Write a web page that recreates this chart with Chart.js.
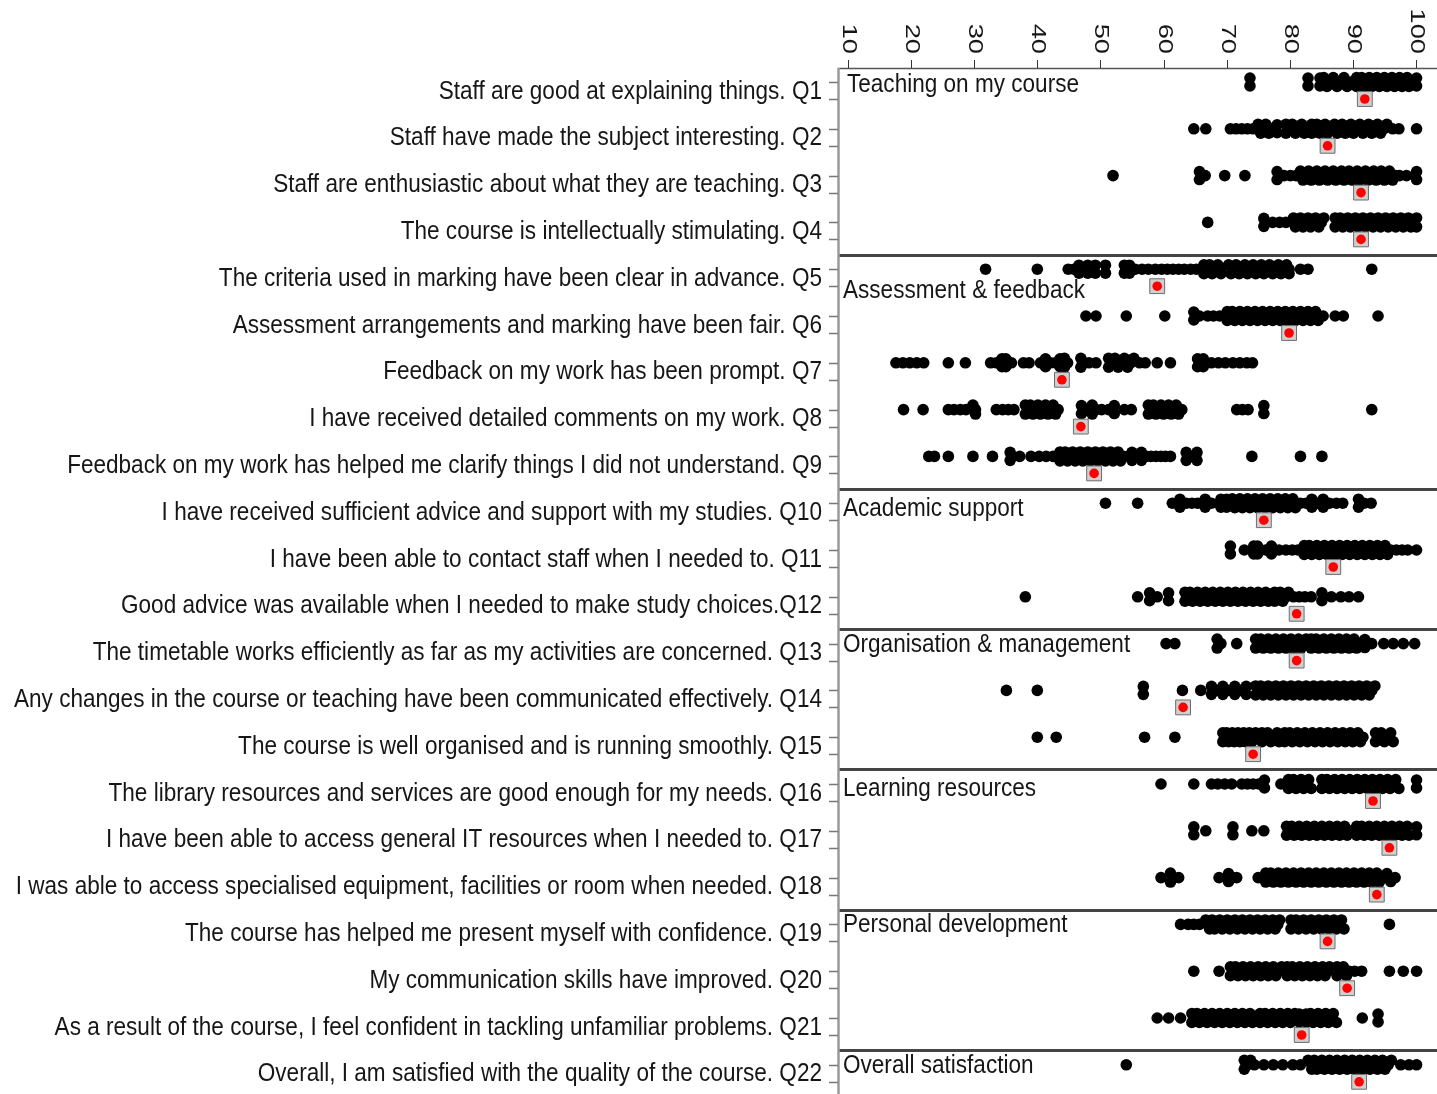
<!DOCTYPE html>
<html>
<head>
<meta charset="utf-8">
<title>National Student Survey – question scores</title>
<script src="https://cdn.jsdelivr.net/npm/chart.js@4.4.1/dist/chart.umd.min.js"></script>
<style>
  html, body { margin: 0; padding: 0; background: #fff; overflow: hidden; }
  #wrap { position: relative; width: 1437px; height: 1094px; }
</style>
</head>
<body>
<div id="wrap"><canvas id="c" width="1437" height="1094"></canvas></div>
<script>
// ---- question labels (one per row) ----
const rowLabels = [
  "Staff are good at explaining things. Q1",
  "Staff have made the subject interesting. Q2",
  "Staff are enthusiastic about what they are teaching. Q3",
  "The course is intellectually stimulating. Q4",
  "The criteria used in marking have been clear in advance. Q5",
  "Assessment arrangements and marking have been fair. Q6",
  "Feedback on my work has been prompt. Q7",
  "I have received detailed comments on my work. Q8",
  "Feedback on my work has helped me clarify things I did not understand. Q9",
  "I have received sufficient advice and support with my studies. Q10",
  "I have been able to contact staff when I needed to. Q11",
  "Good advice was available when I needed to make study choices.Q12",
  "The timetable works efficiently as far as my activities are concerned. Q13",
  "Any changes in the course or teaching have been communicated effectively. Q14",
  "The course is well organised and is running smoothly. Q15",
  "The library resources and services are good enough for my needs. Q16",
  "I have been able to access general IT resources when I needed to. Q17",
  "I was able to access specialised equipment, facilities or room when needed. Q18",
  "The course has helped me present myself with confidence. Q19",
  "My communication skills have improved. Q20",
  "As a result of the course, I feel confident in tackling unfamiliar problems. Q21",
  "Overall, I am satisfied with the quality of the course. Q22"
];

// ---- question groups ----
const groupNames = [
  "Teaching on my course",
  "Assessment & feedback",
  "Academic support",
  "Organisation & management",
  "Learning resources",
  "Personal development",
  "Overall satisfaction"
];
const groupFirstRow = [0, 4, 9, 12, 15, 18, 21];

// ---- x axis ticks (% agreeing) ----
const xTicks = [10, 20, 30, 40, 50, 60, 70, 80, 90, 100];

// ---- highlighted course score per question ----
const courseScores = [91.9, 86.0, 91.3, 91.3, 59.0, 79.9, 43.9, 46.9, 49.0, 75.9, 86.9,
                      81.1, 81.1, 63.1, 74.2, 93.2, 95.8, 93.8, 86.0, 89.1, 81.9, 91.0];

// ---- scores of all other institutions, per question ----
const q1  = [73.7,73.7, 82.9,82.9, 84.8,84.8,85.4,85.9,86.4,86.9,87.5,88.0,88.6,89.1,89.7,
             90.6,90.6,91.0,91.4,91.8,92.2,92.6,93.0,93.4,93.8,94.2,94.6,95.0,95.4,95.8,96.2,96.6,97.0,97.4,97.8,98.2,98.6,98.9,98.9,
             100.1,100.1];
const q2  = [64.8, 66.7, 70.6, 71.5, 72.4, 73.3, 74.2,
             75.0,75.4,75.8,76.2,76.7,77.1, 78.0,78.0,
             79.4,79.4,79.9,80.4,80.9,81.4,81.9,82.3,82.7,
             83.5,83.5,83.9,84.3,84.8,85.2,85.6,86.0,86.4,
             87.1,87.5,87.9,88.3,88.8,89.2,89.7,90.1,90.6,91.1,91.6,92.0,92.5,93.0,93.4,93.9,94.4,94.9,95.4,
             96.3, 97.3, 100.1];
const q3  = [52.0, 65.7,65.7, 66.6, 69.7, 72.9, 78.0,78.0, 79.1, 80.1, 81.0,
             81.7,82.1,82.6,83.0,83.4,83.9,84.3,84.7,85.2,85.6,86.0,86.5,86.9,87.3,87.7,88.2,88.6,89.0,89.4,89.9,90.3,
             90.7,91.1,91.6,92.0,92.4,92.8,93.3,93.7,94.1,94.5,95.0,95.4,95.8,96.3,96.8,97.4,
             98.5, 100.1,100.1];
const q4  = [67.0, 75.9,75.9, 77.3, 78.4, 79.4,
             80.6,80.9,81.3,81.7,82.1,82.5,82.9,83.3,83.7,84.1,84.6,85.0,85.4,
             87.2,87.2,87.6,88.0,88.4,88.8,89.2,89.6,90.0,90.4,90.8,91.2,91.6,92.0,92.4,92.8,93.2,93.6,94.0,94.4,94.8,
             95.2,95.6,96.0,96.4,96.8,97.2,97.6,98.0,98.4,98.8,99.2,99.6,100.1,100.1];
const q5  = [31.8, 40.0, 44.9, 45.8, 46.6,46.6, 47.3, 48.0,48.0, 49.2,49.2, 50.8,50.8,
             53.8,53.8, 54.6,54.6, 55.5, 56.6, 57.6, 58.7, 59.7, 60.6, 61.5, 62.4, 63.3, 64.3, 65.2,
             66.4,66.4,66.8,67.3,67.7,68.2,68.6,69.1,69.1,
             70.3,70.7,71.1,71.5,72.0,72.4,72.9,73.3,73.7,74.2,74.6,75.0,75.5,75.9,76.4,76.8,77.3,77.7,78.2,78.6,79.1,79.5,79.9,79.9,
             81.7, 82.9, 93.0];
const q6  = [47.7, 49.3, 54.1, 60.2, 64.8,64.8, 65.7, 67.0, 67.9, 68.9,
             70.1,70.1,70.5,70.9,71.3,71.7,72.1,72.5,72.9,73.3,73.7,74.1,74.5,74.9,75.3,75.7,76.1,76.5,76.9,77.3,77.7,
             78.1,78.5,78.9,79.3,79.7,80.1,80.5,80.9,81.3,81.7,82.1,82.5,82.9,83.3,83.7,84.1,84.5,
             85.3, 87.2, 88.5, 94.0];
const q7  = [17.6, 18.7, 19.8, 20.9, 22.0, 25.9, 28.6,
             32.6, 33.5, 34.4,34.4, 35.0,35.0, 35.9, 37.8, 38.7,
             40.5, 41.3,41.3, 42.1, 42.9, 43.6,43.6, 44.3,44.3, 44.8,
             46.9,46.9, 47.4, 48.2, 49.3,
             51.3,51.3,51.8,52.3,52.8,53.3,53.8,54.3,54.8,55.3, 56.2, 57.1, 59.0, 61.1,
             65.4,65.4, 66.3,66.3, 67.6, 68.7, 69.8, 71.0, 72.1, 73.2, 74.1];
const q8  = [18.8, 21.9, 25.9, 26.8, 27.8, 28.7, 29.8,30.2,30.2,
             33.5, 34.5, 35.4, 36.3,
             38.1,38.1,38.5,38.9,39.3,39.7,40.1,40.5,40.9,41.3,41.7,42.1,42.5,42.9,43.3,
             47.0,47.0, 47.9, 48.7,48.7, 49.3, 50.2, 51.3, 52.2,52.2, 53.8, 54.9,
             57.6,57.6,58.0,58.4,58.8,59.2,59.6,60.0,60.4,60.8,61.2,61.6,62.0,62.4,62.9,
             71.6, 72.5, 73.4, 75.9,75.9, 93.0];
const q9  = [22.8, 23.7, 25.9, 29.8, 32.9, 35.7,35.7, 37.2, 39.0, 40.3, 41.4, 42.5,
             43.6,43.6,44.0,44.4,44.8,45.2,45.6,46.0,46.4,46.8,47.2,47.6,48.0,48.4,48.8,49.2,49.6,50.0,50.4,50.8,
             51.2,51.6,52.0,52.4,52.8,53.2,53.6, 54.4, 55.0,55.0, 55.8, 56.5,56.5, 57.3, 58.0, 58.8, 59.6, 60.3, 61.1,
             63.6,63.6, 64.4, 65.3,65.3, 74.0, 81.7, 85.1];
const q10 = [50.8, 55.9, 61.4, 62.6,62.6, 63.6, 64.5, 65.4, 66.6,66.6, 67.6, 69.1,69.1, 70.0,70.0,
             70.9,71.3,71.7,72.1,72.5,72.9,73.3,73.7,74.1,74.5,74.9,75.3,75.7,76.1,76.5,76.9,77.3,77.7,78.1,78.5,
             78.9,79.3,79.7,80.1,80.5,80.9,
             81.7, 82.6, 83.5,83.5, 84.4, 85.3,85.3, 86.3, 87.4, 88.4, 90.9,90.9, 91.8, 92.9];
const q11 = [70.6,70.6, 72.8, 74.3,74.3, 74.9,74.9, 76.2, 77.1,77.1, 78.3, 79.4, 80.4, 81.3,
             82.3,82.3,82.7,83.1,83.5,83.9,84.3,84.7,85.1,85.5,85.9,86.3,86.7,87.1,87.5,87.9,88.3,88.7,89.1,89.5,
             89.9,90.3,90.7,91.1,91.5,91.9,92.3,92.7,93.1,93.5,93.9,94.3,94.7,95.1,95.5,96.0,
             96.9, 97.8, 98.7, 100.1];
const q12 = [38.1, 55.9, 57.8,57.8, 59.0, 60.8,60.8,
             63.4,63.4,63.8,64.2,64.6,65.0,65.4,65.8,66.2,66.6,67.0,67.4,67.8,68.2,68.6,69.0,69.4,69.8,70.2,70.6,
             71.0,71.4,71.8,72.2,72.6,73.0,73.4,73.8,74.2,74.6,75.0,75.4,75.8,76.2,76.6,77.0,
             77.6,77.6,78.1,78.5,78.9,79.4,79.8, 80.6, 81.5, 82.4, 83.4, 85.1,85.1, 86.6, 88.1, 89.4, 90.9];
const q13 = [60.4, 61.8, 68.5,68.5, 69.1, 71.6,
             74.6,74.6,75.0,75.4,75.8,76.2,76.6,77.0,77.4,77.8,78.2,78.6,79.0,79.4,79.8,80.2,80.6,81.0,81.4,81.8,82.2,82.6,
             83.4,83.4,83.8,84.2,84.6,85.0,85.4,85.8,86.2,86.6,87.0,87.4,87.8,88.2,88.6,89.0,89.4,89.8,90.2,90.6,91.0,
             91.9,91.9, 93.0, 94.9, 96.4, 98.0, 99.8];
const q14 = [35.1, 40.0, 56.8,56.8, 63.0, 65.9, 67.6,67.6, 68.5, 69.4,69.4, 70.3, 71.3,71.3, 72.2, 73.1,73.1,
             74.6,74.6,75.0,75.4,75.8,76.2,76.6,77.0,77.4,77.8,78.2,78.6,79.0,79.4,79.8,80.2,80.6,81.0,81.4,81.8,
             82.2,82.6,83.0,83.4,83.8,84.2,84.6,85.0,85.4,85.8,86.2,86.6,87.0,87.4,87.8,88.2,88.6,89.0,89.4,89.8,
             90.2,90.6,91.0,91.4,91.8,92.2,92.6,93.0,93.5];
const q15 = [40.0, 43.0, 57.0, 61.8,
             69.4,69.4,69.7,70.0,70.3,70.6,70.9,71.2,71.5,71.8,72.1,72.4,72.7,73.0,73.3,73.6,74.0,74.3,74.6,
             75.6,75.6,76.0,76.5,77.0,77.5,78.0,78.3,
             79.2,79.2,79.6,80.0,80.4,80.8,81.2,81.6,82.0,82.4,82.8,83.2,83.6,84.0,84.4,84.8,85.2,85.6,86.0,86.4,
             86.8,87.2,87.6,88.0,88.4,88.8,89.2,89.6,90.0,90.4,90.8,91.2,91.6,
             93.6,93.6,94.0,94.5,95.0,95.5,96.0,96.4];
const q16 = [59.6, 64.8, 67.6, 68.6, 69.7, 70.8, 72.4, 73.3, 74.2, 75.1, 76.0,76.0, 78.6,
             79.8,79.8,80.2,80.6,81.0,81.4,81.8,82.2,82.6,83.0,83.4,
             85.1,85.1,85.5,85.9,86.3,86.7,87.1,87.5,87.9,88.3,88.7,89.1,89.5,89.9,90.3,90.7,91.1,91.5,91.9,92.3,
             92.7,93.1,93.5,93.9,94.3,94.7,95.1,95.5,95.9,96.3,96.8,97.3, 100.1,100.1];
const q17 = [64.8,64.8, 66.7, 71.0,71.0, 74.0, 75.9,
             79.5,79.5,79.9,80.3,80.7,81.1,81.5,81.9,82.3,82.7,83.1,83.5,83.9,84.3,84.7,85.1,85.5,85.9,86.3,86.7,
             87.1,87.5,87.9,88.3,88.7,89.1,89.5,
             90.6,90.6,91.0,91.4,91.8,92.2,92.6,93.0,93.4,93.8,94.2,94.6,95.0,95.4,95.8,96.2,96.6,97.0,97.4,97.8,
             98.2,98.6,98.9, 100.1,100.1];
const q18 = [59.6, 61.1,61.1, 61.6, 62.4, 68.8, 70.3,70.3, 70.9, 71.6, 75.0,
             76.2,76.2,76.6,77.0,77.4,77.8,78.2,78.6,79.0,79.4,79.8,80.2,80.6,81.0,81.4,81.8,82.2,82.6,83.0,83.4,
             83.8,84.2,84.6,85.0,85.4,85.8,86.2,86.6,87.0,87.4,87.8,88.2,88.6,89.0,89.4,89.8,90.2,90.6,91.0,91.4,
             91.8,92.2,92.6,93.0,93.4,93.8,94.2,94.8,95.4,96.0,96.7];
const q19 = [62.7, 63.9, 64.8, 65.7, 66.7,
             67.3,67.3,67.7,68.1,68.5,68.9,69.3,69.7,70.1,70.5,70.9,71.3,71.7,72.1,72.5,72.9,73.3,73.7,74.1,74.5,
             74.9,75.3,75.7,76.1,76.5,76.9,77.3,77.7,78.1,78.4,
             80.2,80.2,80.6,81.0,81.4,81.8,82.2,82.6,83.0,83.4,83.8,84.2,84.6,85.0,85.4,85.8,86.2,86.6,87.0,87.4,
             87.8,88.2,88.6, 95.8];
const q20 = [64.8, 68.8,
             70.6,70.6,71.0,71.4,71.8,72.2,72.6,73.0,73.4,73.8,74.2,74.6,75.0,75.4,75.8,76.2,76.6,77.0,77.4,77.8,
             78.2,78.7,
             79.6,79.6,80.0,80.4,80.8,81.2,81.6,82.0,82.4,82.8,83.2,83.6,84.0,84.4,84.8,85.2,85.6,86.0,86.3,
             87.5,87.5,88.0,88.5,89.0,89.4, 90.3, 91.4, 95.8, 98.0, 100.1];
const q21 = [59.0, 60.8, 62.7,
             64.5,64.5,64.9,65.3,65.7,66.1,66.5,66.9,67.3,67.7,68.1,68.5,68.9,69.3,69.7,70.1,70.5,70.9,71.3,71.7,
             72.1,72.5,72.9,73.3,73.7,74.1,74.6,
             75.3,75.3,75.7,76.1,76.5,76.9,77.3,77.7,78.1,78.5,78.9,79.3,79.7,80.1,80.5,80.8,
             81.5,81.5, 82.6,82.6, 83.3,83.7,84.1,84.5,84.9,85.3,85.7,86.1,86.5,86.9,87.4,
             91.5, 94.0,94.0];
const q22 = [54.1, 72.8,72.8,73.3,73.8,74.4, 75.9, 77.4, 78.9, 80.5, 81.7, 82.9,
             83.5,83.5,83.9,84.3,84.7,85.1,85.5,85.9,86.3,86.7,87.1,87.5,87.9,88.3,88.7,89.1,89.5,89.9,90.3,90.7,
             91.1,91.5,91.9,92.3,92.7,93.1,93.5,93.9,94.3,94.7,95.1,95.6,96.1,
             97.6, 98.9, 100.1];

const institutionScores = [q1, q2, q3, q4, q5, q6, q7, q8, q9, q10, q11,
                           q12, q13, q14, q15, q16, q17, q18, q19, q20, q21, q22];

// ---- layout constants (in row units along the category axis) ----
const MARKER_DROP = 0.363;   // highlighted marker sits just below its row of dots
const SEPARATOR_LIFT = 0.31; // group rule sits above the group's first row
const groupLabelShift = [0.06, 0.47, 0.12, 0.02, 0.10, 0.0, 0.02];

// Spread overlapping dots vertically so that dense bands read as solid blobs.
function swarmRow(values, row) {
  const sorted = values.slice().sort((a, b) => a - b);
  const pts = [];
  let run = [];
  const flush = () => {
    const n = run.length;
    run.forEach((v, j) => {
      let off = 0;
      if (n === 2) off = j === 0 ? -0.085 : 0.085;
      else if (n > 2) off = [-0.095, 0.095, 0][j % 3];
      pts.push({ x: v, y: row + off });
    });
    run = [];
  };
  sorted.forEach(v => {
    if (run.length && v - run[run.length - 1] > 0.6) flush();
    run.push(v);
  });
  flush();
  return pts;
}

const dotPoints = institutionScores.flatMap((vals, i) => swarmRow(vals, i));
const coursePoints = courseScores.map((v, i) => ({ x: v, y: i + MARKER_DROP }));

const FONT = '"Liberation Sans", Arial, sans-serif';
const TEXT_COLOR = '#161616';
const LABEL_SIZE = 26;

const decorations = {
  id: 'decorations',
  beforeDatasetsDraw(chart) {
    const { ctx, chartArea: a, scales: { y } } = chart;
    ctx.save();
    // group rules
    ctx.strokeStyle = '#444';
    ctx.lineWidth = 3;
    groupFirstRow.forEach(r => {
      if (r === 0) return;
      const py = Math.round(y.getPixelForValue(r - SEPARATOR_LIFT)) + 0.5;
      ctx.beginPath(); ctx.moveTo(a.left, py); ctx.lineTo(a.right, py); ctx.stroke();
    });
    // frame: top and left
    ctx.strokeStyle = '#555';
    ctx.lineWidth = 1.5;
    ctx.beginPath(); ctx.moveTo(a.left, a.top + 0.5); ctx.lineTo(a.right, a.top + 0.5); ctx.stroke();
    ctx.strokeStyle = '#9a9a9a';
    ctx.lineWidth = 2.5;
    ctx.beginPath(); ctx.moveTo(a.left + 0.5, a.top); ctx.lineTo(a.left + 0.5, a.bottom); ctx.stroke();
    ctx.restore();
  },
  afterDraw(chart) {
    const { ctx, chartArea: a, scales: { x, y } } = chart;
    ctx.save();

    // top axis ticks and rotated labels
    ctx.strokeStyle = '#333';
    ctx.lineWidth = 1;
    ctx.fillStyle = TEXT_COLOR;
    ctx.font = `21px ${FONT}`;
    ctx.textAlign = 'right';
    ctx.textBaseline = 'middle';
    xTicks.forEach(t => {
      const px = Math.round(x.getPixelForValue(t)) + 0.5;
      ctx.beginPath(); ctx.moveTo(px, a.top - 8); ctx.lineTo(px, a.top); ctx.stroke();
      ctx.save();
      ctx.translate(px, a.top - 14);
      ctx.rotate(Math.PI / 2);
      ctx.scale(1.3, 1);
      ctx.fillText(String(t), 0, 0);
      ctx.restore();
    });

    // category ticks on the left edge (dots row and marker row)
    ctx.strokeStyle = '#777';
    ctx.lineWidth = 1.5;
    rowLabels.forEach((_, i) => {
      [i, i + MARKER_DROP].forEach(v => {
        const py = Math.round(y.getPixelForValue(v)) + 0.5;
        ctx.beginPath(); ctx.moveTo(a.left - 9, py); ctx.lineTo(a.left, py); ctx.stroke();
      });
    });

    // question labels, right aligned against the axis
    ctx.font = `${LABEL_SIZE}px ${FONT}`;
    const longest = Math.max(...rowLabels.map(s => ctx.measureText(s).width));
    const squeeze = (a.left - 16 - 14) / longest;
    ctx.textAlign = 'right';
    ctx.textBaseline = 'middle';
    rowLabels.forEach((s, i) => {
      const py = y.getPixelForValue(i + 0.2);
      ctx.save();
      ctx.translate(a.left - 16, py);
      ctx.scale(squeeze, 1);
      ctx.fillText(s, 0, 0);
      ctx.restore();
    });

    // group titles inside the plot
    ctx.textAlign = 'left';
    groupNames.forEach((g, k) => {
      const py = y.getPixelForValue(groupFirstRow[k] + groupLabelShift[k]);
      ctx.save();
      ctx.translate(a.left + (k === 0 ? 9 : 5), py);
      ctx.scale(squeeze, 1);
      ctx.fillText(g, 0, 0);
      ctx.restore();
    });
    ctx.restore();
  }
};

new Chart(document.getElementById('c'), {
  type: 'scatter',
  data: {
    datasets: [
      {
        label: 'Course',
        data: coursePoints,
        pointStyle: 'circle',
        pointRadius: 4.8,
        backgroundColor: '#ff0000',
        borderWidth: 0
      },
      {
        label: 'Course frame',
        data: coursePoints,
        pointStyle: 'rect',
        pointRadius: 10.5,
        backgroundColor: '#cfcfcf',
        borderColor: '#6e6e6e',
        borderWidth: 1
      },
      {
        label: 'Institutions',
        data: dotPoints,
        pointStyle: 'circle',
        pointRadius: 5.8,
        backgroundColor: '#000',
        borderWidth: 0
      }
    ]
  },
  options: {
    responsive: false,
    devicePixelRatio: 1,
    animation: false,
    events: [],
    layout: { autoPadding: false, padding: { left: 838, top: 68, right: 0, bottom: 0 } },
    scales: {
      x: { type: 'linear', display: false, min: 8.415, max: 103.34 },
      y: { type: 'linear', display: false, reverse: true, min: -0.299, max: 21.624 }
    },
    plugins: { legend: { display: false }, tooltip: { enabled: false } }
  },
  plugins: [decorations]
});
</script>
</body>
</html>
